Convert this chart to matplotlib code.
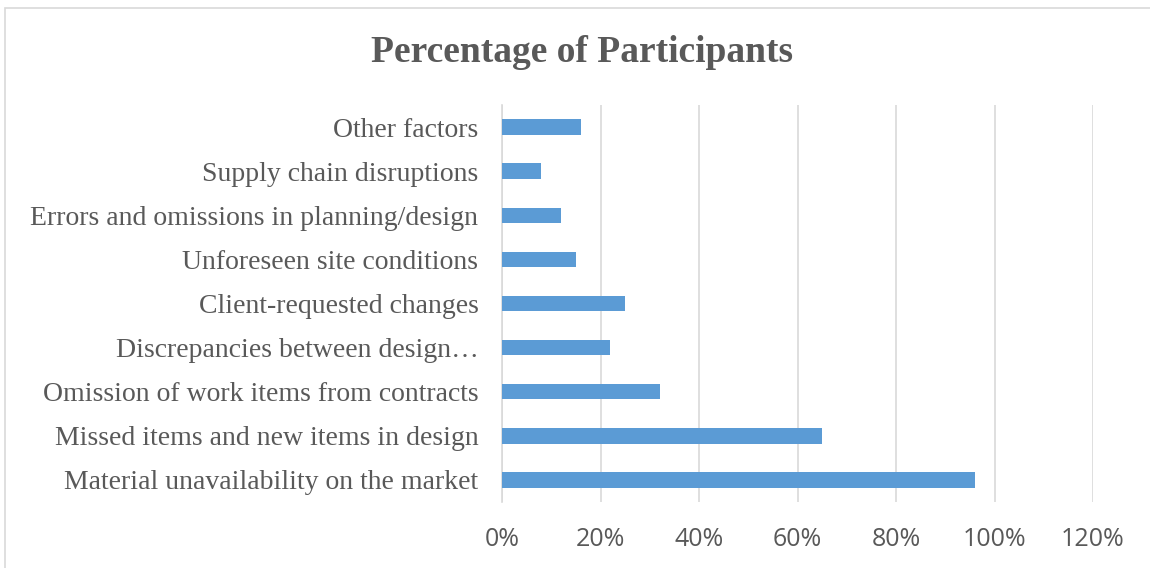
import matplotlib.pyplot as plt
from matplotlib.patches import Rectangle
from matplotlib.ticker import FuncFormatter

# data, bottom to top as drawn
categories = [
    "Material unavailability on the market",
    "Missed items and new items in design",
    "Omission of work items from contracts",
    "Discrepancies between design\u2026",
    "Client-requested changes",
    "Unforeseen site conditions",
    "Errors and omissions in planning/design",
    "Supply chain disruptions",
    "Other factors",
]
values = [0.96, 0.65, 0.32, 0.22, 0.25, 0.15, 0.12, 0.08, 0.16]
x_ticks = [0, 0.2, 0.4, 0.6, 0.8, 1.0, 1.2]

bar_color = "#5B9BD5"
text_color = "#595959"
grid_color = "#D9D9D9"

fig = plt.figure(figsize=(11.5, 5.68), dpi=100)

# chart frame like an Excel chart area
fig.patches.append(Rectangle((5 / 1150, -0.01), 1.2, 1.0 - 8 / 568 + 0.01,
                             transform=fig.transFigure, fill=False,
                             edgecolor=grid_color, linewidth=1.2))

ax = fig.add_axes([502 / 1150, 1 - 502 / 568, (1093 - 502) / 1150, (502 - 105) / 568])

ax.barh(range(len(categories)), values, height=0.35, color=bar_color, zorder=3)

ax.set_xlim(0, 1.2)
ax.set_ylim(-0.5, len(categories) - 0.5)
ax.set_xticks(x_ticks)
ax.xaxis.set_major_formatter(FuncFormatter(lambda v, p: f"{v * 100:.0f}%"))
ax.set_yticks(range(len(categories)))
ax.set_yticklabels(categories, family="Liberation Serif", fontsize=20, color=text_color)

for lbl in ax.get_xticklabels():
    lbl.set_family("Open Sans")
    lbl.set_fontsize(18)
    lbl.set_color(text_color)

ax.tick_params(axis="y", length=0, pad=17)
ax.tick_params(axis="x", length=0, pad=18)

ax.grid(axis="x", color=grid_color, linewidth=1.2, zorder=0)
for s in ["top", "right", "bottom"]:
    ax.spines[s].set_visible(False)
ax.spines["left"].set_color(grid_color)
ax.spines["left"].set_linewidth(1.2)

fig.text(582 / 1150, 1 - 52 / 568, "Percentage of Participants", ha="center", va="center",
         family="Liberation Serif", fontweight="bold", fontsize=27, color=text_color)

fig.savefig("out.png", dpi=100)
